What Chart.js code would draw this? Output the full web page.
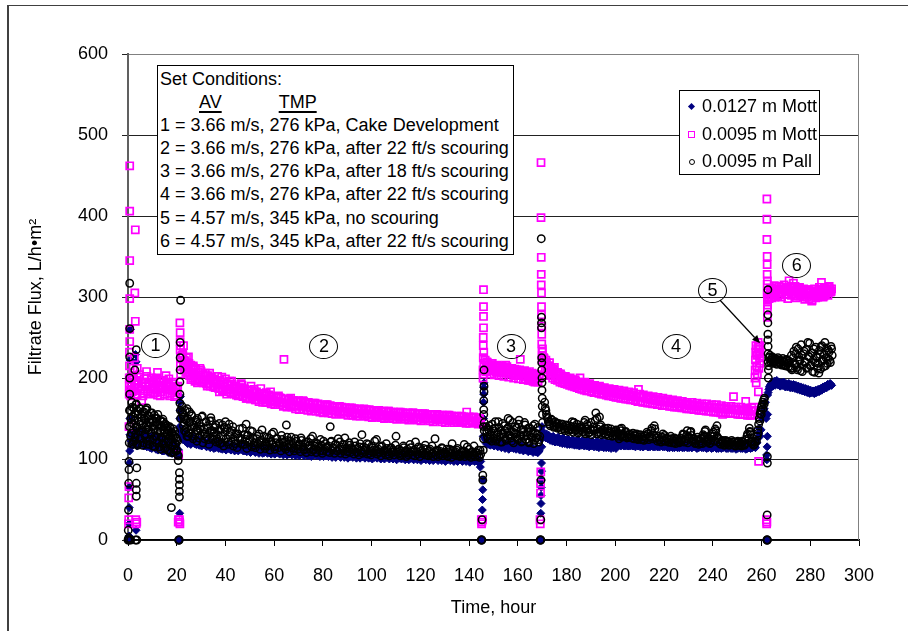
<!DOCTYPE html>
<html><head><meta charset="utf-8">
<script src="https://cdn.jsdelivr.net/npm/chart.js@4.4.1/dist/chart.umd.min.js"></script>
<style>
html,body{margin:0;padding:0;background:#fff;}
#wrap{position:relative;width:908px;height:631px;overflow:hidden;font-family:"Liberation Sans",Arial,sans-serif;color:#000;}
#c{position:absolute;left:0;top:0;}
#frame{position:absolute;left:7px;top:5px;width:1000px;height:1000px;border-left:2px solid #404040;border-top:1px solid #404040;pointer-events:none;}
.box{position:absolute;background:#fff;border:1px solid #000;box-sizing:border-box;}
#cond{left:157px;top:65px;width:357px;height:190px;font-size:18px;line-height:23.1px;padding:2px 0 0 2px;white-space:nowrap;}
.u{text-decoration:underline;text-decoration-thickness:2px;text-underline-offset:3px;}
#legend{left:679px;top:90px;width:141px;height:85px;font-size:18px;}
.lrow{position:absolute;left:22px;height:21.6px;line-height:21.6px;white-space:nowrap;}
.mk{position:absolute;box-sizing:border-box;}
.callout{position:absolute;width:29px;height:25px;border:1px solid #000;border-radius:50%;box-sizing:border-box;font-size:18px;line-height:23px;text-align:center;}
</style></head>
<body>
<div id="wrap">
<canvas id="c" width="908" height="631"></canvas>
<div id="frame"></div>
<div id="cond" class="box">
<div>Set Conditions:</div>
<div><span class="u" style="margin-left:39px">AV</span><span class="u" style="margin-left:57px">TMP</span></div>
<div id="condLines"></div>
</div>
<div id="legend" class="box"></div>
<div id="callouts"></div>
</div>
<script>
// ---------------- data (time in hours, flux in L/h·m²) ----------------
const seriesNames = ['0.0127 m Mott', '0.0095 m Mott', '0.0095 m Pall'];
const conditionLines = [
  '1 = 3.66 m/s, 276 kPa, Cake Development',
  '2 = 3.66 m/s, 276 kPa, after 22 ft/s scouring',
  '3 = 3.66 m/s, 276 kPa, after 18 ft/s scouring',
  '4 = 3.66 m/s, 276 kPa, after 22 ft/s scouring',
  '5 = 4.57 m/s, 345 kPa, no scouring',
  '6 = 4.57 m/s, 345 kPa, after 22 ft/s scouring'
];
const calloutLabels = ['1', '2', '3', '4', '5', '6'];
const calloutT = [11.3, 80.4, 157.2, 224.9, 239.9, 274.5];
const calloutV = [240, 239.5, 238.3, 238.6, 308.6, 339.5];
const arrowFrom = [242.9, 296.3];
const arrowTo = [259.4, 242.8];

// ---- 0.0127 m Mott : [hour, flux] ----
const navyA = [[0.2,0],[0.4,5],[0.5,20],[0.5,40],[0.6,65],[0.6,95],[0.7,110],[0.8,130],[0.8,150],[0.9,180],[0.9,222],[1.0,260],[3.1,229],[3.3,220],[3.3,12],
[1.3,122],[1.6,131],[2,117],[2.4,128],[2.8,135],[3.2,121],[3.6,130],[4,118],[4.5,127],[5,133],[5.5,120],[6,128],[6.5,116],[7,126],[7.5,131],[8,118],[8.5,125],[9,114],[9.5,124],[10,129],[10.5,116],[11,123],[11.5,112],[12,121],[12.5,127],[13,113],[13.5,120],[14,110],[14.5,119],[15,124],[15.5,111],[16,118],[16.5,108],[17,116],[17.5,121],[18,107],[18.5,114],[19,110],[19.5,117],[20,106],[20.3,112],[20.6,104]];
const navyB = [[20.9,0],[21.0,0],[21.2,33],[21.3,140],[21.3,150],[21.4,160],[21.4,170],[21.5,177],[21.6,135],
[22,130],[22.5,124],[23,133],[23.5,122],[24,128],[24.5,119],[25,126],[26,121],[27,127],[28,118],[29,124],[30,117],[31,123],[32,116],[33,122],[34,115],[35,121],[36,114],[37,120],[38,113],[39,119],[40,114],[41,118],[42,112],[43,117],[44,111],[45,116],[46,112],[47,117],[48,110],[49,115],[50,111],[51,116],[52,109],[53,114],[54,110],[55,115],[56,108],[57,113],[58,109],[59,114],[60,107],[61,112],[62,108],[63,113],[64,107],[65,111],[66,106],[67,112],[68,107],[69,111],[70,106],[71,110],[72,106],[73,111],[74,105],[75,110],[76,105],[77,110],[78,105],[79,109],[80,106],[81,110],[82,105],[83,110],[84,105],[85,109],[86,104],[87,109],[88,104],[89,108],[90,104],[91,108],[92,103],[93,108],[94,103],[95,107],[96,103],[97,107],[98,103],[99,107],[100,104],[101,108],[102,103],[103,107],[104,102],[105,107],[106,103],[107,106],[108,102],[109,106],[110,102],[111,106],[112,101],[113,106],[114,102],[115,105],[116,101],[117,105],[118,101],[119,105],[120,101],[121,105],[122,100],[123,104],[124,101],[125,104],[126,100],[127,104],[128,100],[129,104],[130,100],[131,104],[132,100],[133,103],[134,99],[135,103],[136,100],[137,103],[138,99],[139,103],[140,99],[141,103],[142,99],[143,102],[144,98],[144.6,90]];
const navyC = [[145.0,0],[145.2,0],[145.4,37],[145.5,50],[145.6,62],[145.7,74],[145.8,128],[145.9,150],[145.9,170],[146.0,180],[146.0,188],[146.1,194],[146.2,140],
[146.6,124],[147,119],[147.5,123],[148.5,118],[149.5,122],[150.5,117],[151.5,121],[152.5,116],[153.5,120],[154.5,116],[155.5,119],[156.5,115],[157.5,119],[158.5,114],[159.5,118],[160.5,114],[161.5,117],[162.5,113],[163.5,116],[164.5,112],[165.5,115],[166.5,111],[167.5,113],[168,108],[168.6,110]];
const navyD = [[169.2,0],[169.4,0],[169.4,33],[169.5,45],[169.5,55],[169.6,65],[169.6,74],[169.7,85],[169.7,95],[169.8,115],[169.8,125],[169.9,135],[169.9,140],
[170.5,130],[171.5,126],[172.5,129],[173.5,124],[174.5,128],[175.5,123],[176.5,127],[177.5,122],[178.5,126],[179.5,121],[180.5,125],[181.5,121],[182.5,124],[183.5,120],[184.5,124],[185.5,120],[186.5,123],[187.5,119],[188.5,123],[189.5,119],[190.5,122],[191.5,118],[192.5,122],[193.5,118],[194.5,122],[195.5,118],[196.5,121],[197.5,117],[198.5,121],[199.5,117],[200.5,121],[201.5,117],[202.5,120],[203.5,116],[204.5,120],[205.5,116],[206.5,120],[207.5,116],[208.5,120],[209.5,116],[210.5,119],[211.5,115],[212.5,119],[213.5,115],[214.5,119],[215.5,115],[216.5,119],[217.5,115],[218.5,118],[219.5,115],[220.5,118],[221.5,114],[222.5,118],[223.5,114],[224.5,118],[225.5,114],[226.5,118],[227.5,114],[228.5,117],[229.5,114],[230.5,118],[231.5,114],[232.5,117],[233.5,113],[234.5,117],[235.5,114],[236.5,117],[237.5,113],[238.5,117],[239.5,113],[240.5,117],[241.5,113],[242.5,117],[243.5,113],[244.5,116],[245.5,113],[246.5,117],[247.5,113],[248.5,116],[249.5,112],[250.5,116],[251.5,113],[252.5,116],[253.5,112],[254.5,116],[255.5,113],[256.5,116],[257.5,114]];
const navyE = [[258.1,120],[258.6,126],[258.9,132],[259.1,138],[259.4,128],[259.8,136],[260.2,150],[260.6,155],[261.1,162],[261.6,170],[261.9,150],[262.1,105],[262.2,99],[262.2,0],[262.3,115],[262.4,128],[262.5,155],[262.5,179],
[262.7,182],[263.0,186],[263.4,190],[263.8,188],[264.2,193],[264.6,190],[265.2,194],[265.6,191],[266.1,196],[266.6,192],[267.1,195],[267.6,190],[268.1,194],[268.6,191],[269.1,195],[269.6,190],[270.1,193],[270.6,189],[271.1,193],[271.6,189],[272.1,192],[272.6,188],[273.1,192],[273.6,188],[274.1,191],[274.6,187],[275.1,190],[275.6,186],[276.1,189],[276.6,185],[277.1,188],[277.6,184],[278.1,187],[278.6,183],[279.1,186],[279.6,182],[280.1,185],[280.6,182],[281.1,184],[281.6,181],[282.1,184],[282.6,182],[283.1,185],[283.6,183],[284.1,186],[284.6,185],[285.1,188],[285.6,187],[286.1,190],[286.6,189],[287.1,192],[287.6,190],[288.1,193],[288.6,191]];
// regularly logged readings between the points above: {start hour, step hours, flux readings}
const navyLogA = {start: 1.25, step: 0.5, v: [130,119,134,124,128,116,131,121,126,133,118,124,129,115,127,120,125,113,122,128,116,121,111,124,118,114,122,110,117,120,109,116,112,119,107,114,110,116,105,111]};
const navyLogB = {start: 22.25, step: 0.5, v: [133,126,129,122,127,120,125,118,124,121, 119,125,118,123,117,122,116,121,118,120, 115,120,117,114,119,116,113,118,115,117, 113,118,115,112,117,114,111,116,113,115, 111,116,113,110,115,112,110,114,112,113, 110,114,112,109,114,111,108,113,110,112, 108,113,110,107,112,109,107,111,109,110, 107,111,109,106,111,108,106,110,108,109, 106,110,108,105,110,107,105,109,107,108, 105,109,107,104,109,106,104,108,106,107, 104,108,106,104,108,105,103,107,105,106, 104,107,105,103,107,105,103,106,104,106, 103,107,105,102,106,104,102,106,104,105, 102,106,104,102,106,103,101,105,103,105, 102,105,104,101,105,103,101,105,103,104, 101,105,103,101,104,102,100,104,102,104, 101,104,102,100,104,102,100,103,102,103, 100,104,102,100,103,101,99,103,101,103, 100,103,101,99,103,101,99,102,101,102, 99,103,101,99,102,100,98,102,100,102, 99,102,100,98,102,100,98,101,100,101, 98,102,100,98,101,99,97,101,99,101, 98,101,99,97,101,99,97,100,99,100, 97,101,99,97,100,98,96,100,98,100, 97,100,98,96,99,97]};
const navyLogC = {start: 147.25, step: 0.5, v: [123,118,122,117,121,119,116,120,118,115,119,117,114,118,116,113,117,115,112,116,114,117,113,115,112,116,113,111,115,112,110,114,111,113,109,112,110,113,108,111,109,112,108,110]};
const navyLogD = {start: 171.25, step: 0.5, v: [127,131,125,129,123,127,122,126,121,125, 121,125,120,124,119,123,119,123,118,122, 118,122,118,121,117,121,117,121,116,120, 117,121,116,120,116,120,115,119,116,119, 115,119,115,119,114,118,115,118,114,118, 114,118,114,117,113,117,114,117,113,117, 117,121,116,120,117,120,116,120,116,119, 116,120,116,119,115,119,116,119,115,119, 115,119,116,119,115,118,115,119,116,118, 115,119,115,118,115,118,116,118,115,118, 115,118,114,118,115,118,114,118,115,117, 114,118,115,117,114,118,115,117,114,118, 114,117,115,118,114,117,114,117,115,117, 114,117,114,118,114,117,115,117,114,117, 114,117,113,117,114,117,114,116,114,117, 113,117,114,116,113,117,114,116,113,117, 114,116,113,117,114,116,113,117,114,116, 114,117,115]};
const navyLogE = {start: 263.25, step: 0.5, v: [189,192,195,191,196,193,197,192,195,190,194,191,193,189,192,190,193,188,191,188,190,187,189,186,188,185,187,184,186,183,185,182,184,181,183,182,184,181,185,183,186,184,187,185,189,187,190,188,192,190,193,191]};

// ---- 0.0095 m Mott ----
const pinkA = [[0.2,20],[0.3,25],[0.3,52],[0.4,66],[0.4,140],[0.5,180],[0.5,200],[0.6,215],[0.6,232],[0.7,245],[0.7,260],[0.7,298],[0.7,345],[0.7,406],[0.7,462],[0.5,190],[0.9,185],[1.0,200],[1.1,178],[2.1,212],[2.6,225],[2.8,305],[3.0,383],[3.0,270],[3.2,25],[3.4,20],[3.6,22],
[1.3,198],[1.7,186],[2.1,203],[2.6,192],[3.1,180],[3.6,196],[4.1,188],[4.6,201],[5.1,184],[5.6,194],[6.1,178],[6.6,199],[7.1,190],[7.6,208],[8.1,183],[8.6,195],[9.1,186],[9.6,200],[10.1,181],[10.6,193],[11.1,187],[11.6,198],[12.1,179],[12.6,191],[13.1,196],[13.6,183],[14.1,190],[14.6,197],[15.1,180],[15.6,192],[16.1,186],[16.6,195],[17.1,178],[17.6,189],[18.1,184],[18.6,193],[19.1,177],[19.6,188],[20.1,182],[20.4,190],
[3.8,212],[12.1,207],[15.6,203],[5.6,172],[20.6,22],[20.7,25],[20.8,105]];
const pinkB = [[21.1,25],[21.2,22],[21.3,20],[21.3,268],[21.4,256],[21.4,245],[21.4,235],[21.5,225],[21.5,215],[21.6,205],[21.6,240],
[22.5,230],[23,222],[23.5,215],[24,225],[24.5,208],[25,218],[25.5,204],[26,212],[26.5,200],[27,210],[27.5,196],[28,206],[29,199],[30,208],[31,194],[32,203],[33,192],[34,200],[35,189],[36,197],[37,188],[38,195],[39,185],[40,199],[41,186],[42,192],[43,181],[44,190],[45,183],[46,188],[47,178],[48,186],[49,180],[50,184],[51,176],[52,183],[53,177],[54,181],[55,173],[56,180],[57,174],[58,178],[59,171],[60,177],[61,170],[62,176],[63,169],[64,223],[64.5,174],[65,168],[66,174],[67,166],[68,172],[69,165],[70,172],[71,166],[72,171],[73,164],[74,170],[75,163],[76,169],[77,163],[78,168],[79,162],[80,158],[81,167],[82,161],[83,166],[84,160],[85,165],[86,159],[87,164],[88,158],[89,163],[90,158],[91,163],[92,157],[93,162],[94,156],[95,162],[96,156],[97,161],[98,155],[99,161],[100,155],[101,160],[102,154],[103,160],[104,154],[105,159],[106,153],[107,159],[108,153],[109,158],[110,153],[111,158],[112,152],[113,157],[114,152],[115,157],[116,151],[117,157],[118,151],[119,156],[120,151],[121,156],[122,150],[123,155],[124,150],[125,155],[126,150],[127,154],[128,149],[129,154],[130,149],[131,154],[132,148],[133,153],[134,148],[135,153],[136,148],[137,152],[138,147],[139,158],[140,152],[141,147],[142,151],[143,146],[144,150],[144.6,146],
[22.8,240],[23.2,210],[24.8,226],[25.8,198],[26.8,215],[28.5,194],[29.5,212],[30.5,197],[32.5,190],[33.5,206],[35.5,198],[37.5,183],[38.5,201],[40.5,180],[42.5,196],[44.5,179],[46.5,193],[48.5,175],[50.5,190],[52.5,173],[54.5,187],[56.5,170],[58.5,183]];
const pinkC = [[145.0,25],[145.1,20],[145.2,22],[145.5,25],[145.7,200],[145.7,210],[145.8,225],[145.8,240],[145.8,250],[145.9,262],[145.9,276],[145.9,288],[145.9,309],[146.0,232],[146.0,218],[146.1,205],
[146.6,222],[147,214],[147.5,219],[148.5,212],[149.5,218],[150.5,210],[151.5,216],[152.5,209],[153.5,215],[154.5,208],[155.5,214],[156.5,207],[157.5,212],[158.5,206],[159.5,210],[160.5,204],[161,223],[161.5,208],[162.5,202],[163.5,206],[164.5,200],[165.5,204],[166.5,198],[167.5,202],[168.2,196],[168.7,200],
[147.0,208],[148,216],[149,209],[150,214],[151,207],[152,213],[153,206],[154,211],[155,216],[156,210],[157,205],[158,209],[159,203],[160,207],[162,205],[163,199],[164,203],[165,197],[166,201],[167,195]];
const pinkD = [[169.1,25],[169.2,20],[169.3,58],[169.3,70],[169.4,84],[169.5,466],[169.5,398],[169.6,349],[169.6,328],[169.6,315],[169.7,305],[169.7,288],[169.7,278],[169.8,264],[169.8,254],[169.8,242],[169.9,232],[169.9,222],[170.0,228],[170.1,236],
[170.6,225],[171,218],[171.5,222],[172,210],[172.5,215],[173.5,205],[174.5,211],[175.5,202],[176.3,207],[176.5,199],[177.5,205],[178.5,197],[179.5,202],[180.5,195],[181.5,200],[182.5,193],[183.5,198],[184.5,191],[185.5,200],[186.5,190],[187.5,195],[188.5,188],[189.5,193],[190.5,187],[191.5,191],[192.5,185],[193.5,190],[194.5,184],[195.5,188],[196.5,182],[197.5,187],[198.5,181],[199.5,186],[200.5,180],[201.5,185],[202.5,179],[203.5,184],[204.5,178],[205.5,183],[206.5,177],[207.5,182],[208.5,176],[209.5,186],[210,180],[210.5,171],[211.5,179],[212.5,175],[213.5,178],[214.5,173],[215.5,177],[216.5,172],[217.5,176],[218.5,171],[219.5,175],[220.5,170],[221.5,174],[222.5,169],[223.5,173],[224.5,168],[225.5,172],[226.5,165],[227.5,171],[228.5,167],[229.5,170],[230.5,166],[231.5,170],[232.5,165],[233.5,169],[234.5,164],[235.5,168],[236.5,164],[237.5,168],[238.5,163],[239.5,167],[240.5,163],[241.5,167],[242.5,162],[243.5,166],[244,155],[244.5,162],[245.5,165],[246.5,161],[247.5,165],[248.5,177],[249,161],[249.5,164],[250.5,160],[251.5,164],[252.5,160],[253.5,171],[254,163],[254.5,159],[255.5,155],[256,163],[256.5,160],[257,164],
[171.2,212],[173,219],[174,207],[175,213],[176,203],[178,200],[180,198],[182,196],[184,194],[186,193],[188,191],[190,189],[192,188],[194,186],[196,185],[198,183],[200,182]];
const pinkE = [[257.3,200],[257.4,210],[257.5,222],[257.6,232],[257.7,240],[257.8,194],[258.0,215],[258.2,228],[258.4,236],[258.6,244],[258.8,230],[259.0,238],[259.2,225],[259.4,240],[258.7,183],[258.8,97],[259.3,218],[259.4,232],[258.3,205],[258.9,212],
[262.0,25],[262.1,20],[262.2,22],[262.2,421],[262.2,396],[262.2,371],[262.3,340],[262.3,328],[262.3,316],[262.3,305],[262.4,296],[262.4,285],[262.4,275],[262.5,290],[262.6,300],[262.3,350],[262.4,320],
[263.1,298],[263.6,305],[264.1,300],[264.6,310],[265.1,303],[265.6,308],[266.1,313],[266.6,302],[267.1,309],[267.6,305],[268.1,312],[268.6,306],[269.6,310],[270.1,303],[270.6,311],[271.3,320],[271.6,307],[272.1,313],[272.6,304],[273.1,317],[273.6,308],[274.1,301],[274.6,310],[275.1,305],[275.6,312],[276.1,303],[276.6,309],[277.1,304],[277.6,300],[278.1,307],[278.6,302],[279.1,309],[279.6,298],[280.1,305],[280.6,295],[281.1,303],[281.6,308],[282.1,301],[282.6,306],[283.1,300],[283.6,309],[284.1,304],[284.6,318],[285.1,307],[285.6,301],[286.1,310],[286.6,305],[287.1,312],[287.6,306],[288.1,310],[288.6,307],[265.5,300]];
const pinkLogA = {start: 1.25, step: 0.5, v: [194,183,201,188,197,179,192,204,186,195,181,199,189,202,184,193,180,198,187,196,182,200,185,191,178,197,188,194,180,192,186,199,181,190,184,195,179,188,183]};
const pinkLogB = {start: 22.25, step: 0.5, v: [228,214,221,207,219,211,203,216,206,213, 202,211,197,207,199,210,195,204,198,206, 193,203,197,190,201,194,199,188,196,202, 187,197,191,184,195,189,183,193,186,196, 182,192,186,180,190,184,178,188,183,191, 177,187,181,175,185,180,174,184,178,186, 173,183,177,171,181,175,170,180,174,182, 170,179,173,168,177,172,167,176,171,178, 167,175,170,165,174,168,164,173,167,175, 164,172,167,162,171,166,161,170,165,172, 161,169,164,160,168,163,159,167,162,169, 159,167,162,158,166,161,157,165,160,167, 157,165,160,156,164,159,155,163,158,165, 156,164,159,155,163,158,154,162,157,163, 154,162,157,153,161,156,153,160,155,162, 153,161,156,152,160,155,151,159,154,160, 152,159,155,151,158,154,150,158,153,159, 151,158,154,150,157,153,149,157,152,158, 150,157,153,149,156,152,148,156,151,157, 149,156,152,148,155,151,147,155,150,156, 149,155,151,147,154,150,146,154,149,155, 148,154,150,146,153,149,145,153,148,154, 147,153,149,145,152,148,145,152,147,153, 146,152,148,144,151,147,144,151,146,152, 145,151,147,143,150,146]};
const pinkLogC = {start: 147.25, step: 0.5, v: [220,209,216,205,218,211,204,215,208,213,203,214,207,212,202,213,206,211,201,212,205,210,200,211,204,209,199,210,203,208,198,209,202,207,197,208,201,206,196,205,199,204,195,202]};
const pinkLogD = {start: 170.75, step: 0.5, v: [224,212,219,207,215,203,212,200,209,198, 207,197,205,195,203,194,202,193,200,192, 199,191,198,190,197,189,196,188,195,187, 194,186,193,185,193,184,192,184,191,183, 190,182,189,182,188,181,188,180,187,180, 186,179,186,178,185,178,184,177,184,176, 183,176,182,175,182,175,181,174,180,174, 180,173,179,173,178,172,178,171,177,171, 177,170,176,170,176,169,175,169,175,168, 174,168,174,167,173,167,173,166,172,166, 172,166,171,165,171,165,170,164,170,164, 169,164,169,163,168,163,168,162,168,162, 167,162,167,161,166,161,166,160,166,160, 165,160,165,159,165,159,164,159,164,158, 164,158,163,158,163,157,163,157,162,157, 162,157,162,156,162,156,161,156,161,155, 161,155,160,155,160,155,160,154,159,154, 159,154,159,155]};
const pinkLogE = {start: 263.25, step: 0.5, v: [302,311,299,308,314,304,310,301,313,306,300,309,315,303,311,298,307,312,302,309,304,313,299,306,311,301,308,303,310,297,305,300,309,302,307,296,304,310,299,306,301,312,303,308,300,311,304,309,302,313,306,310]};

// ---- 0.0095 m Pall ----
const pallA = [[0.0,0],[0.2,2],[0.4,0],[1.1,0],[0.1,12],[0.2,37],[0.3,70],[0.4,87],[0.4,97],[0.5,120],[0.6,140],[0.6,160],[0.7,180],[0.7,200],[0.7,226],[0.7,261],[0.7,317],[3.4,235],[2.8,210],[3.4,70],[3.4,62],[3.4,54],[3.6,89],[3.6,0],[3.1,0],[17.8,40],[7.6,161],
[0.9,160],[1.1,128],[1.3,145],[1.6,170],[1.8,118],[2.0,152],[2.2,136],[2.4,163],[2.6,122],[2.8,148],[3.0,157],[3.2,131],[3.4,168],[3.6,140],[3.9,117],[4.2,155],[4.5,134],[4.8,162],[5.1,125],[5.4,147],[5.7,138],[6.0,158],[6.3,120],[6.6,150],[6.9,131],[7.2,161],[7.5,142],[7.8,118],[8.1,153],[8.4,136],[8.7,146],[9.0,124],[9.3,157],[9.6,133],[9.9,149],[10.2,116],[10.5,141],[10.8,154],[11.1,128],[11.4,145],[11.7,120],[12.0,150],[12.3,135],[12.6,143],[12.9,115],[13.2,148],[13.5,127],[13.8,140],[14.1,119],[14.4,146],[14.7,132],[15.0,113],[15.3,143],[15.6,125],[15.9,138],[16.2,111],[16.5,135],[16.8,121],[17.1,140],[17.4,128],[17.7,108],[18.0,133],[18.3,117],[18.6,137],[18.9,112],[19.2,128],[19.5,119],[19.8,110],[20.1,124],[20.4,105],[20.6,98]];
const pallB = [[20.8,0],[21.0,0],[20.9,0],[21.1,53],[21.1,60],[21.1,68],[21.1,75],[21.1,83],[21.3,169],[21.3,180],[21.3,195],[21.4,210],[21.4,225],[21.4,244],[21.6,296],[21.5,160],[21.6,150],
[22.5,155],[23,145],[23.5,160],[24,138],[24.5,150],[25,132],[25.5,146],[26,155],[26.5,128],[27,142],[28,136],[28.5,150],[29,126],[30,140],[31,131],[32,146],[33,124],[34,151],[34.5,135],[35,128],[36,142],[37,122],[38,137],[39,128],[40,146],[41,121],[42,133],[43,140],[44,119],[45,131],[46,126],[47,138],[48,118],[48.5,143],[49,129],[50,124],[51,134],[52,117],[53,128],[54,122],[55,136],[56,116],[57,127],[58,121],[59,131],[60,115],[61,125],[62,119],[63,129],[64,114],[65,142],[65.5,123],[66,118],[67,127],[68,113],[69,122],[70,117],[71,126],[72,112],[73,121],[74,116],[75,125],[76,111],[77,120],[78,115],[79,124],[80,110],[81,119],[82,114],[83,140],[83.5,122],[84,113],[85,118],[86,110],[87,121],[88,112],[89,126],[90,109],[91,117],[92,112],[93,121],[94,108],[95,115],[96,130],[97,111],[98,119],[99,107],[100,116],[101,111],[102,124],[103,108],[104,115],[105,110],[106,119],[107,106],[108,114],[109,109],[110,128],[111,112],[112,107],[113,116],[114,110],[115,105],[116,114],[117,109],[118,121],[119,106],[120,113],[121,108],[122,117],[123,105],[124,112],[125,107],[126,125],[127,110],[128,105],[129,113],[130,108],[131,104],[132,112],[133,119],[134,107],[135,111],[136,104],[137,109],[138,118],[139,106],[140,112],[141,105],[142,116],[143,108],[144,104],[144.5,111],
[22.2,165],[22.8,152],[23.2,135],[23.8,148],[24.2,128],[25.2,158],[26.2,140],[27.5,131],[28.2,145],[29.5,137],[30.5,153],[31.5,125],[32.5,138],[33.5,147],[35.5,133],[36.5,125],[37.5,144],[38.5,120],[39.5,139],[41.5,143]];
const pallC = [[145.0,0],[145.2,0],[145.1,0],[145.3,25],[145.6,74],[145.6,80],[145.8,111],[145.9,125],[145.9,140],[146.0,155],[146.0,161],[146.0,172],[146.1,183],[146.1,190],[146.1,210],[146.2,145],[146.2,135],
[147,140],[147.5,128],[148,136],[148.5,124],[149,133],[149.5,143],[150,126],[150.5,138],[151,122],[151.5,130],[152,146],[152.5,127],[153,135],[153.5,121],[154,131],[154.5,141],[155,125],[155.5,137],[156,150],[156.5,129],[157,134],[157.5,122],[158,145],[158.5,131],[159,127],[159.5,139],[160,124],[160.5,148],[161,130],[161.5,121],[162,136],[162.5,128],[163,142],[163.5,124],[164,133],[164.5,120],[165,138],[165.5,127],[166,132],[166.5,119],[167,143],[167.5,126],[168,130],[168.5,121],[169,128]];
const pallD = [[169.2,0],[169.4,0],[169.3,0],[169.4,25],[169.5,74],[169.6,372],[169.7,275],[169.7,268],[169.7,262],[169.8,225],[169.8,219],[169.8,210],[169.9,200],[169.9,194],[169.9,185],[170.0,175],[170.0,165],[170.1,155],[170.1,145],
[171,170],[171.5,160],[172,152],[172.5,146],[173,143],[174,148],[175,140],[176,144],[177,139],[178,143],[179,137],[180,141],[181,136],[182,140],[183,145],[183.5,135],[184,139],[185,134],[186,140],[187,133],[187.6,148],[188,137],[189,132],[190,145],[191,136],[192,157],[192.5,150],[193,131],[194,142],[195,135],[196,130],[197,138],[198,132],[199,129],[200,134],[201,131],[202,137],[202.6,138],[203,128],[204,133],[205,127],[206,131],[207,126],[208,130],[209,125],[210,129],[211,124],[212,128],[213,133],[214,127],[215,138],[216,141],[217,126],[218,123],[219,127],[220,122],[221,126],[222,121],[223,125],[224,120],[225,124],[226,121],[227,125],[228,130],[229,122],[230,128],[231,134],[232,124],[233,120],[234,124],[235,119],[236,130],[237,136],[237.5,127],[238,122],[239,120],[240,131],[241,137],[241.7,141],[242,126],[243,119],[244,123],[245,118],[246,122],[247,118],[248,121],[249,117],[250,121],[251,118],[252,122],[253,117],[254,128],[255,138],[255.5,130],[256,121],[257,118],
[183,145],[188.5,143],[193.5,152],[201.5,125],[219.5,131],[229.5,135],[236.5,127],[240.5,128],[255.2,133]];
const pallE = [[257.9,122],[258.2,128],[258.5,136],[258.8,143],[259.1,150],[259.4,156],[259.7,160],[260.0,164],[260.3,167],[260.6,170],[260.9,173],[261.2,175],[258.6,132],[259.3,147],[259.9,155],[260.6,162],[261.1,168],
[262.2,0],[262.4,0],[262.3,0],[262.3,31],[262.4,95],[262.4,103],[262.6,309],[262.6,278],[262.6,268],[262.6,254],[262.6,247],[262.7,239],[262.7,230],[262.7,220],[262.8,210],[262.8,200],[262.9,225],[262.9,215],
[263.5,228],[264,222],[264.5,226],[265,220],[265.5,224],[266,218],[266.5,223],[267,219],[267.5,222],[268,217],[268.5,221],[269,216],[269.5,220],[270,215],[270.5,222],[271,214],[271.5,219],[272,212],[272.5,210],[273,225],[273.5,218],[274,230],[274.5,213],[275,236],[275.5,222],[276,209],[276.5,228],[277,216],[277.5,233],[278,220],[278.5,212],[279,244],[279.5,226],[280,215],[280.5,231],[281,208],[281.5,236],[282,219],[282.5,227],[283,212],[283.5,206],[284,229],[284.5,238],[285,221],[285.5,214],[286,244],[286.5,225],[287,218],[287.5,234],[288,222],[288.5,239],[289,228]];
const pallLogA = {start: 1.15, step: 0.3, v: [150,132,164,121,143,156,127,167,138,119,159,146,125,162,134,151,117,144,158,129,148,136,163,122,140,153,118,145,131,157,124,147,137,115,150,128,142,155,120,139,133,112,146,126,149,118,136,143,114,131,141,122,135,110,138,125,132,116,129,108,134,119,126,111,122,104]};
const pallLogB = {start: 22.25, step: 0.5, v: [158,141,149,133,162,128,145,137,153,125, 139,148,122,135,144,129,152,120,137,131, 127,141,118,135,147,124,132,139,121,130, 136,119,128,142,116,133,125,138,118,129, 122,135,116,127,131,114,126,137,119,124, 118,130,124,113,129,121,135,115,126,120, 114,125,119,131,112,123,117,128,113,121, 116,126,111,122,118,133,112,120,125,114, 119,110,124,116,121,112,127,115,109,122, 114,120,110,125,116,112,119,109,123,115, 111,118,108,121,113,117,109,128,112,116, 108,119,113,110,117,107,122,112,115,109, 116,108,121,111,114,107,118,110,125,112, 107,115,110,118,106,113,109,120,108,114, 111,106,116,109,113,105,119,110,107,115, 109,113,106,118,110,105,114,108,122,111, 106,112,109,104,116,108,111,105,113,109, 104,113,108,111,105,117,109,106,112,104, 110,105,114,108,103,112,107,118,109,105, 111,104,109,106,115,103,110,107,113,105, 108,112,104,110,106,116,103,109,105,111, 103,110,107,114,104,108,106,112,103,109, 107,102,111,105,109,104,113,106,103,108, 105,110,103,108,115,104,107,102,109,105, 103,108,105,111,102,106]};
const pallLogC = {start: 147.25, step: 0.5, v: [134,125,141,130,122,137,128,146,124,133,139,121,131,144,127,135,123,138,129,148,126,134,120,140,131,125,143,128,136,122,133,145,124,130,138,121,134,127,141,123,132,126,139,124]};
const pallLogD = {start: 171.25, step: 0.5, v: [163,155,150,146,141,149,144,139,146,141, 138,144,140,136,143,139,135,142,138,134, 141,137,146,133,140,136,143,132,139,135, 138,134,145,131,137,141,133,136,130,139, 135,148,131,137,133,140,130,136,132,138, 131,135,129,134,137,128,133,130,136,128, 132,129,135,127,131,128,134,126,130,127, 129,126,132,125,128,131,124,127,130,124, 127,123,129,126,131,124,128,135,125,130, 137,126,122,128,124,121,127,123,129,122, 125,121,124,128,120,123,126,119,124,122, 120,126,123,131,121,125,129,120,126,133, 129,122,125,119,123,127,118,122,125,119, 128,134,124,121,125,119,123,128,133,122, 135,128,121,124,118,122,120,117,123,119, 121,117,120,123,118,121,116,120,122,117, 120,116,121,118,119,124,131,126,134,122, 119,117,121]};
const pallLogE = {start: 263.25, step: 0.5, v: [226,220,224,218,223,221,217,225,219,222,216,224,220,215,223,218,221,214,228,212,233,217,238,210,226,221,241,208,230,219,235,213,227,243,216,231,222,207,238,225,218,234,211,240,223,229,215,237,224,232,219,236]};

// ---------------- build ----------------
const toXY = arr => arr.map(p => ({x: p[0], y: p[1]}));
const logXY = lg => lg.v.map((v, i) => ({x: lg.start + i * lg.step, y: v}));
const navyData = toXY([].concat(navyA, navyB, navyC, navyD, navyE)).concat(...[navyLogA, navyLogB, navyLogC, navyLogD, navyLogE].map(logXY));
const pinkData = toXY([].concat(pinkA, pinkB, pinkC, pinkD, pinkE)).concat(...[pinkLogA, pinkLogB, pinkLogC, pinkLogD, pinkLogE].map(logXY));
const pallData = toXY([].concat(pallA, pallB, pallC, pallD, pallE)).concat(...[pallLogA, pallLogB, pallLogC, pallLogD, pallLogE].map(logXY));

const FONT = '"Liberation Sans", Arial, sans-serif';

const condEl = document.getElementById('condLines');
conditionLines.forEach(t => { const d = document.createElement('div'); d.textContent = t; condEl.appendChild(d); });
const legendEl = document.getElementById('legend');
const rowTops = [4.9, 32.5, 59.9];
const markerCss = [
  'left:9.2px;width:5px;height:5px;background:#000080;transform:rotate(45deg);',
  'left:8.2px;width:7px;height:7px;border:1px solid #FF00FF;',
  'left:8.7px;width:6px;height:6px;border:1px solid #000;border-radius:50%;'
];
const markerSize = [5, 7, 6];
seriesNames.forEach((n, i) => {
  const m = document.createElement('div');
  m.className = 'mk';
  m.style.cssText = markerCss[i] + 'top:' + (rowTops[i] + 10.8 - markerSize[i] / 2) + 'px;';
  legendEl.appendChild(m);
  const r = document.createElement('div');
  r.className = 'lrow'; r.style.top = rowTops[i] + 'px'; r.textContent = n;
  legendEl.appendChild(r);
});
const calloutWrap = document.getElementById('callouts');
const calloutEls = calloutLabels.map(t => {
  const d = document.createElement('div'); d.className = 'callout'; d.textContent = t; calloutWrap.appendChild(d); return d;
});

const overlay = {
  id: 'overlay',
  beforeDatasetsDraw(chart) {
    const {ctx, chartArea: a} = chart;
    ctx.save();
    ctx.strokeStyle = '#808080'; ctx.lineWidth = 1;
    ctx.beginPath();
    ctx.moveTo(Math.round(a.right) - 0.5, a.top);
    ctx.lineTo(Math.round(a.right) - 0.5, a.bottom);
    ctx.stroke();
    ctx.restore();
  },
  afterDraw(chart) {
    const xs = chart.scales.x, ys = chart.scales.y, ctx = chart.ctx;
    calloutEls.forEach((el, i) => {
      el.style.left = (xs.getPixelForValue(calloutT[i]) - 14.5) + 'px';
      el.style.top = (ys.getPixelForValue(calloutV[i]) - 12.5) + 'px';
    });
    const x1 = xs.getPixelForValue(arrowFrom[0]), y1 = ys.getPixelForValue(arrowFrom[1]);
    const x2 = xs.getPixelForValue(arrowTo[0]), y2 = ys.getPixelForValue(arrowTo[1]);
    const ang = Math.atan2(y2 - y1, x2 - x1), L = 8, W = 3.5;
    ctx.save();
    ctx.strokeStyle = '#000'; ctx.fillStyle = '#000'; ctx.lineWidth = 1.2;
    ctx.beginPath(); ctx.moveTo(x1, y1);
    ctx.lineTo(x2 - L * Math.cos(ang), y2 - L * Math.sin(ang)); ctx.stroke();
    ctx.beginPath(); ctx.moveTo(x2, y2);
    ctx.lineTo(x2 - L * Math.cos(ang) + W * Math.sin(ang), y2 - L * Math.sin(ang) - W * Math.cos(ang));
    ctx.lineTo(x2 - L * Math.cos(ang) - W * Math.sin(ang), y2 - L * Math.sin(ang) + W * Math.cos(ang));
    ctx.closePath(); ctx.fill();
    ctx.restore();
  }
};

new Chart(document.getElementById('c'), {
  type: 'scatter',
  data: {
    datasets: [
      {label: seriesNames[0], data: navyData, order: 3, pointStyle: 'rectRot', pointRadius: 4,
        backgroundColor: '#000080', borderColor: '#000080', borderWidth: 1, clip: false},
      {label: seriesNames[1], data: pinkData, order: 2, pointStyle: 'rect', pointRadius: 5,
        backgroundColor: 'rgba(0,0,0,0)', borderColor: '#FF00FF', borderWidth: 1.7, clip: false},
      {label: seriesNames[2], data: pallData, order: 1, pointStyle: 'circle', pointRadius: 3.7,
        backgroundColor: 'rgba(0,0,0,0)', borderColor: '#000000', borderWidth: 1.5, clip: false}
    ]
  },
  options: {
    responsive: false, animation: false, devicePixelRatio: 1,
    layout: {padding: {left: 0, right: 49, top: 54, bottom: 0}},
    plugins: {legend: {display: false}, tooltip: {enabled: false}},
    elements: {point: {hoverRadius: 0}},
    events: [],
    scales: {
      x: {
        type: 'linear', min: 0, max: 300,
        ticks: {stepSize: 20, color: '#000', font: {family: FONT, size: 18}, padding: 19, maxRotation: 0, autoSkip: false},
        grid: {drawOnChartArea: false, drawTicks: true, tickLength: 6, color: '#000'},
        border: {display: true, color: '#000', width: 1.5},
        title: {display: true, text: 'Time, hour', color: '#000', font: {family: FONT, size: 18}, padding: {top: 0, bottom: 12}},
        afterFit(s) { s.height = 91; }
      },
      y: {
        type: 'linear', min: 0, max: 600,
        ticks: {stepSize: 100, color: '#000', font: {family: FONT, size: 18}, padding: 14},
        grid: {color: c => (c.tick && c.tick.value === 600) ? '#808080' : '#222', tickColor: '#222', lineWidth: 1, drawTicks: true, tickLength: 6},
        border: {display: true, color: '#606060', width: 2},
        title: {display: true, text: 'Filtrate Flux, L/h•m²', color: '#000', font: {family: FONT, size: 18}, padding: {top: 25, bottom: 0}},
        afterFit(s) { s.width = 128; }
      }
    }
  },
  plugins: [overlay]
});
</script>
</body></html>
